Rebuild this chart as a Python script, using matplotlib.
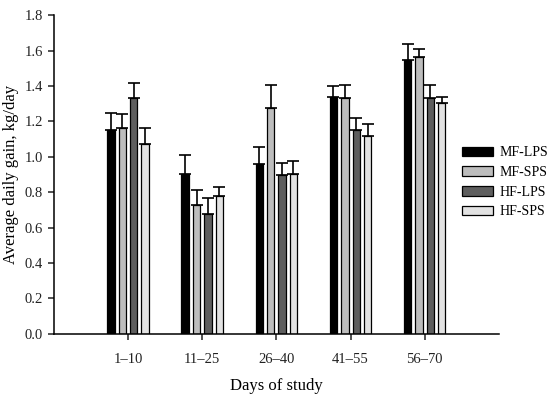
import numpy as np
import matplotlib
matplotlib.use('Agg')
import matplotlib.pyplot as plt
import matplotlib.ticker as ticker

#DATA
periods = ['1\u201310', '11\u201325', '26\u201340', '41\u201355', '56\u201370']
groups = ['MF-LPS', 'MF-SPS', 'HF-LPS', 'HF-SPS']
mf_lps = [1.15, 0.90, 0.96, 1.34, 1.545]
mf_sps = [1.165, 0.725, 1.275, 1.335, 1.565]
hf_lps = [1.33, 0.675, 0.895, 1.15, 1.333]
hf_sps = [1.07, 0.78, 0.90, 1.12, 1.303]
mf_lps_err = [0.095, 0.108, 0.097, 0.06, 0.093]
mf_sps_err = [0.077, 0.087, 0.133, 0.072, 0.042]
hf_lps_err = [0.088, 0.09, 0.068, 0.067, 0.074]
hf_sps_err = [0.09, 0.047, 0.075, 0.068, 0.036]

colors = ['#000000', '#bdbdbd', '#5e5e5e', '#e2e2e2']

plt.rcParams['font.family'] = ['Liberation Serif', 'DejaVu Serif']

fig = plt.figure(figsize=(5.5, 3.99), dpi=100)
ax = fig.add_axes([0.098, 0.1637, 0.809, 0.798])

x = np.arange(1, len(periods) + 1)
offsets = [-0.23, -0.077, 0.077, 0.23]
width = 0.1
series = [mf_lps, mf_sps, hf_lps, hf_sps]
errs = [mf_lps_err, mf_sps_err, hf_lps_err, hf_sps_err]
for vals, err, off, col, name in zip(series, errs, offsets, colors, groups):
    ax.bar(x + off, vals, width, color=col, edgecolor='black', linewidth=0.9,
           label=name, zorder=2)
    ax.errorbar(x + off, vals, yerr=[np.zeros(len(err)), err], fmt='none',
                ecolor='black', elinewidth=1.2, capsize=4.5, capthick=1.2, zorder=1)

ax.set_xlim(0, 6)
ax.set_ylim(0, 1.8)
ax.set_xticks(x)
ax.set_xticklabels(periods)
ax.yaxis.set_major_locator(ticker.MultipleLocator(0.2))
ax.yaxis.set_major_formatter(ticker.FormatStrFormatter('%.1f'))
ax.spines['top'].set_visible(False)
ax.spines['right'].set_visible(False)
ax.spines['left'].set_linewidth(1.1)
ax.spines['bottom'].set_linewidth(1.1)
ax.tick_params(axis='both', labelsize=10.5, length=4, width=1.1, colors='#222222', pad=4)
ax.tick_params(axis='x', pad=10)
ax.set_xlabel('Days of study', fontsize=12)
ax.set_ylabel('Average daily gain, kg/day', fontsize=12)
# place axis labels like the reference
ax.yaxis.set_label_coords(-0.078, 0.5)
ax.xaxis.set_label_coords(0.5, -0.14)

ax.legend(loc='center left', bbox_to_anchor=(0.918, 0.475), frameon=False,
          fontsize=10, handlelength=2.2, handleheight=0.7,
          labelspacing=0.48, handletextpad=0.5, borderaxespad=0, borderpad=0)

fig.savefig('out.png', dpi=100)
